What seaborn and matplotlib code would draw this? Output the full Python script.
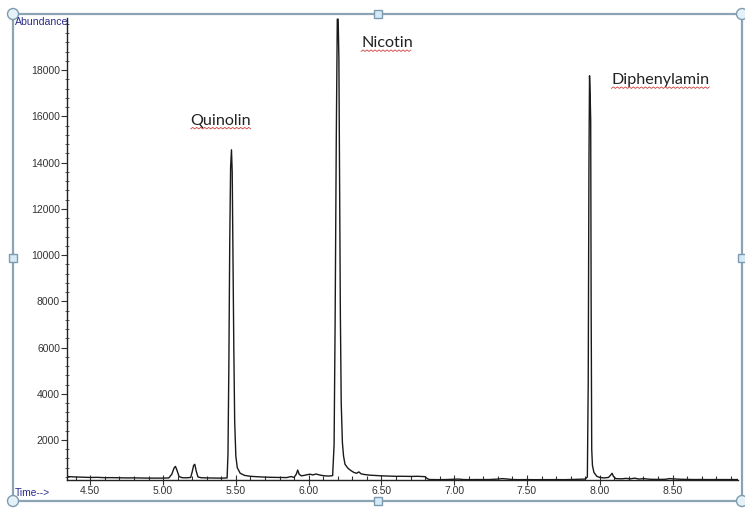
import numpy as np
import pandas as pd
import seaborn as sns
import matplotlib.pyplot as plt
from matplotlib.patches import Rectangle, Ellipse
from matplotlib.lines import Line2D
from matplotlib.ticker import MultipleLocator

# chromatogram trace (retention time in min, abundance)
time = [4.34, 4.40, 4.45, 4.50, 4.55, 4.60, 4.65, 4.70, 4.75, 4.80, 4.85, 4.90,
        4.95, 5.00, 5.04, 5.06, 5.075, 5.085, 5.095, 5.11, 5.13, 5.16, 5.19,
        5.20, 5.21, 5.218, 5.228, 5.24, 5.26, 5.30, 5.35, 5.40, 5.44, 5.446,
        5.452, 5.458, 5.464, 5.470, 5.475, 5.480, 5.486, 5.492, 5.50, 5.51,
        5.53, 5.56, 5.60, 5.65, 5.70, 5.75, 5.80, 5.85, 5.88, 5.90, 5.915,
        5.925, 5.935, 5.95, 5.97, 5.99, 6.01, 6.03, 6.05, 6.08, 6.11, 6.14,
        6.165, 6.175, 6.182, 6.190, 6.197, 6.203, 6.208, 6.213, 6.218, 6.224,
        6.232, 6.24, 6.25, 6.27, 6.29, 6.31, 6.33, 6.345, 6.36, 6.38, 6.42,
        6.46, 6.50, 6.55, 6.60, 6.65, 6.70, 6.75, 6.80, 6.815, 6.83, 6.90,
        6.95, 7.00, 7.03, 7.06, 7.10, 7.15, 7.20, 7.25, 7.30, 7.33, 7.36,
        7.40, 7.45, 7.50, 7.55, 7.60, 7.65, 7.70, 7.75, 7.80, 7.85, 7.90,
        7.915, 7.921, 7.926, 7.930, 7.934, 7.938, 7.941, 7.945, 7.95, 7.96,
        7.98, 8.00, 8.03, 8.06, 8.075, 8.085, 8.095, 8.11, 8.15, 8.18, 8.21,
        8.24, 8.27, 8.30, 8.35, 8.40, 8.45, 8.48, 8.50, 8.53, 8.56, 8.60,
        8.65, 8.70, 8.75, 8.80, 8.85, 8.90, 8.95]
abundance = [420, 400, 390, 380, 385, 370, 372, 365, 360, 362, 355, 352,
             350, 352, 360, 520, 780, 860, 700, 420, 370, 365, 380,
             620, 900, 950, 650, 400, 370, 360, 355, 350, 360, 1400,
             5200, 10500, 13800, 14550, 13600, 10000, 6000, 2800, 1300, 800,
             560, 470, 430, 410, 395, 385, 380, 375, 420, 380, 520,
             700, 520, 450, 470, 500, 520, 490, 530, 480, 450, 440,
             460, 1800, 7000, 15000, 20200, 20200, 18500, 13000, 7500, 3600,
             1900, 1300, 950, 780, 680, 600, 560, 620, 540, 510, 480,
             465, 450, 440, 430, 430, 425, 430, 415, 330, 290, 285,
             290, 300, 310, 290, 285, 290, 288, 292, 310, 330, 315,
             290, 285, 288, 284, 286, 285, 287, 285, 290, 300, 310,
             400, 4500, 14000, 17750, 17000, 15800, 8000, 1600, 900, 600,
             430, 380, 360, 380, 480, 560, 420, 330, 320, 340, 320,
             350, 310, 330, 300, 295, 300, 330, 320, 310, 300, 295,
             290, 292, 288, 290, 287, 288, 290]
peak_names = ["Quinolin", "Nicotin", "Diphenylamin"]
label_time = [5.19, 6.36, 8.08]
label_abundance = [15800, 19150, 17550]

df = pd.DataFrame({"time": time, "abundance": abundance})

sns.set_style("ticks")
plt.rcParams["font.family"] = ["Liberation Sans", "DejaVu Sans"]

fig = plt.figure(figsize=(7.45, 5.09), dpi=100)
ax = fig.add_axes([67 / 745, 1 - 480 / 509, (738 - 67) / 745, (480 - 18) / 509])

sns.lineplot(data=df, x="time", y="abundance", ax=ax, color="#1a1a1a",
             linewidth=1.0, estimator=None, sort=False)

ax.set_xlim(4.34, 8.95)
ax.set_ylim(270, 20250)
ax.set_xlabel("")
ax.set_ylabel("")
for s in ["top", "right"]:
    ax.spines[s].set_visible(False)
for s in ["left", "bottom"]:
    ax.spines[s].set_color("#222222")
    ax.spines[s].set_linewidth(1.0)

ax.xaxis.set_minor_locator(MultipleLocator(0.1))
ax.yaxis.set_minor_locator(MultipleLocator(400))
ax.set_xticks(np.arange(4.5, 8.51, 0.5))
ax.set_xticklabels([f"{v:.2f}" for v in np.arange(4.5, 8.51, 0.5)])
ax.set_yticks(np.arange(2000, 18001, 2000))
ax.set_yticklabels([str(v) for v in range(2000, 18001, 2000)])
ax.tick_params(axis="x", which="major", direction="inout", length=7, width=0.8,
               colors="#333333", labelsize=7.5, pad=1)
ax.tick_params(axis="x", which="minor", direction="in", length=3, width=0.8,
               colors="#333333")
ax.tick_params(axis="y", which="major", direction="out", length=4, width=0.8,
               colors="#333333", labelsize=7.5, pad=1)
ax.tick_params(axis="y", which="minor", direction="inout", length=3, width=0.6,
               colors="#444444")

texts = []
for name, t, a in zip(peak_names, label_time, label_abundance):
    texts.append(ax.text(t, a, name, fontsize=11.6, family=["Lato", "DejaVu Sans"],
                         color="#222222", ha="left", va="center"))

fig.text(15 / 745, 1 - 22 / 509, "Abundance", fontsize=7.6, color="#2b2b8c",
         ha="left", va="center")
fig.text(15 / 745, 1 - 493 / 509, "Time-->", fontsize=7.4, color="#2b2b8c",
         ha="left", va="center")

# selection frame with handles
W, H = 745, 509
frame_col = "#8aa3b5"
fig.add_artist(Rectangle((13 / W, 1 - 501 / H), (742 - 13) / W, (501 - 14) / H,
                         transform=fig.transFigure, fill=False,
                         edgecolor=frame_col, linewidth=1.6))
for px, py in [(13, 14), (742, 14), (13, 501), (742, 501)]:
    fig.add_artist(Ellipse((px / W, 1 - py / H), 11 / W, 11 / H,
                           transform=fig.transFigure, facecolor="#e4f1f7",
                           edgecolor="#7d9bb0", linewidth=1))
for px, py in [(378, 14), (378, 501), (13, 258), (742, 258)]:
    fig.add_artist(Rectangle(((px - 4) / W, 1 - (py + 4) / H), 8 / W, 8 / H,
                             transform=fig.transFigure, facecolor="#d6eaf5",
                             edgecolor="#7d9bb0", linewidth=1))

# red spell-check squiggles under the peak labels
fig.canvas.draw()
inv = fig.transFigure.inverted()
for t in texts:
    bb = t.get_window_extent()
    xs = np.arange(bb.x0, bb.x1, 2.0)
    ys = bb.y0 - 1 + np.where(np.arange(len(xs)) % 2 == 0, 0, 1.5)
    pts = inv.transform(np.column_stack([xs, ys]))
    fig.add_artist(Line2D(pts[:, 0], pts[:, 1], transform=fig.transFigure,
                          color="#d04040", linewidth=0.6))

fig.savefig("out.png", dpi=100)
